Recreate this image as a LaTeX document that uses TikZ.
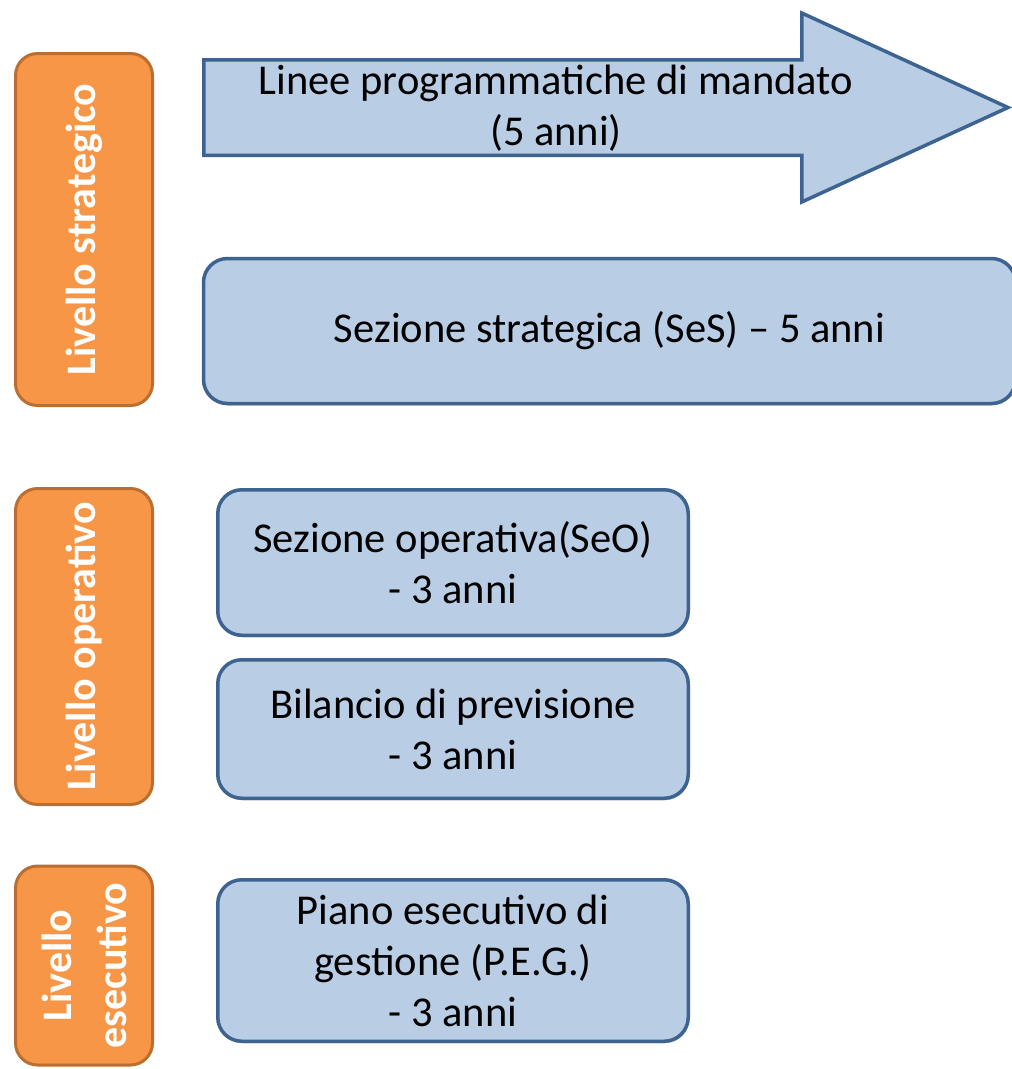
\documentclass[tikz,border=0pt]{standalone}
\usepackage{fontspec}
\setmainfont{Carlito}
\usetikzlibrary{shadows}
\definecolor{orfill}{HTML}{F79646}
\definecolor{ordraw}{HTML}{BA6E2F}
\definecolor{blfill}{HTML}{B9CDE5}
\definecolor{bldraw}{HTML}{3D6391}
\tikzset{
  levelbox/.style={draw=ordraw, fill=orfill, line width=3pt, rounded corners=22pt,
    inner sep=0pt, minimum height=137pt, text=white,
    font=\bfseries\fontsize{42}{55}\selectfont, align=center, rotate=90},
  bluebox/.style={draw=bldraw, fill=blfill, line width=3.5pt, rounded corners=24pt,
    inner sep=0pt, font=\fontsize{42.5}{51}\selectfont, align=center,
    drop shadow={shadow xshift=0.8pt, shadow yshift=-2pt, opacity=0.35, fill=black!60}},
  arrowshape/.style={draw=bldraw, fill=blfill, line width=3.5pt, line join=miter},
  plaintext/.style={inner sep=0pt, font=\fontsize{42.5}{51}\selectfont, align=center}
}
\begin{document}
\begin{tikzpicture}[x=1pt,y=-1pt]
\useasboundingbox (0,0) rectangle (1012,1069);
% level labels
\node[levelbox, minimum width=352pt] (strat) at (84,229.5) {Livello strategico};
\node[levelbox, minimum width=316pt] (oper) at (84,646.5) {Livello operativo};
\node[levelbox, minimum width=199pt] (esec) at (84,965.5) {Livello\\esecutivo};
% big arrow
\coordinate (a1) at (203.75,59.75);
\coordinate (a2) at (801.75,59.75);
\coordinate (a3) at (801.75,13);
\coordinate (a4) at (1008,107.5);
\coordinate (a5) at (801.75,202);
\coordinate (a6) at (801.75,155.25);
\coordinate (a7) at (203.75,155.25);
\draw[arrowshape] (a1) -- (a2) -- (a3) -- (a4) -- (a5) -- (a6) -- (a7) -- cycle;
\node[plaintext] (lpm) at (556,108) {Linee programmatiche di mandato\\(5 anni)};
% boxes
\node[bluebox, minimum width=812pt, minimum height=145pt] (ses) at (609.5,331) {Sezione strategica (SeS) -- 5 anni};
\node[bluebox, minimum width=470.5pt, minimum height=145.5pt] (seo) at (453,562.5) {Sezione operativa(SeO)\\- 3 anni};
\node[bluebox, minimum width=470.5pt, minimum height=138.5pt] (bil) at (453,729) {Bilancio di previsione\\- 3 anni};
\node[bluebox, minimum width=470.5pt, minimum height=161.5pt] (peg) at (453,960.5) {Piano esecutivo di\\gestione (P.E.G.)\\- 3 anni};
\end{tikzpicture}
\end{document}
